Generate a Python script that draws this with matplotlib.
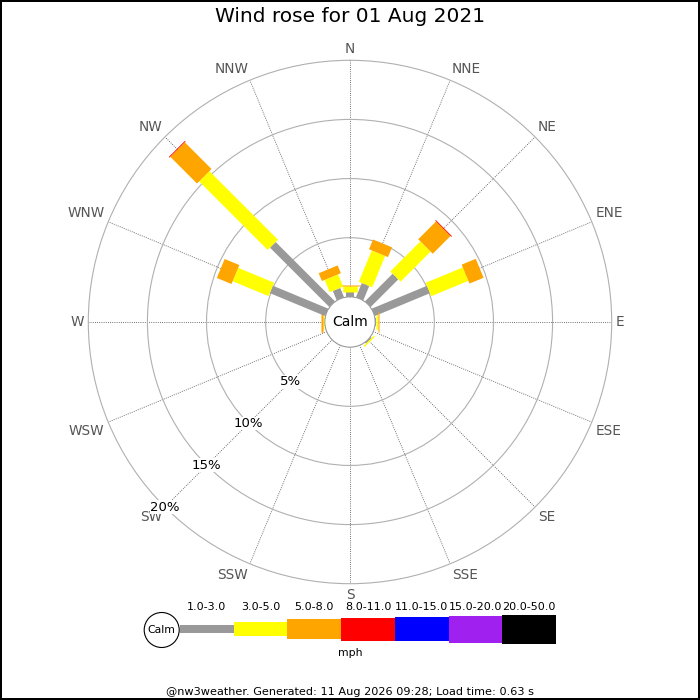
import numpy as np
import matplotlib
matplotlib.use("Agg")
import matplotlib.pyplot as plt
from matplotlib.patches import Circle

dir_names = ["N", "NNE", "NE", "ENE", "E", "ESE", "SE", "SSE",
             "S", "SSW", "SW", "WSW", "W", "WNW", "NW", "NNW"]
pct_1_3 = [0.42, 1.30, 3.31, 5.05, 0.10, 0, 0.12, 0, 0, 0, 0, 0, 0.07, 5.07, 7.10, 0.85]
pct_3_5 = [0.51, 2.87, 3.59, 3.40, 0.12, 0, 0.12, 0, 0, 0, 0, 0, 0.12, 3.29, 8.20, 1.13]
pct_5_8 = [0.08, 0.89, 2.13, 1.29, 0.12, 0, 0, 0, 0, 0, 0, 0, 0.12, 1.34, 3.20, 0.71]
pct_8_11 = [0, 0, 0.07, 0, 0, 0, 0, 0, 0, 0, 0, 0, 0, 0, 0.07, 0]
pct_11_15 = [0] * 16
pct_15_20 = [0] * 16
pct_20_50 = [0] * 16

speed_labels = ["1.0-3.0", "3.0-5.0", "5.0-8.0", "8.0-11.0",
                "11.0-15.0", "15.0-20.0", "20.0-50.0"]
ring_values = [5, 10, 15, 20]

title = "Wind rose for 01 Aug 2021"
footer = "@nw3weather. Generated: 11 Aug 2026 09:28; Load time: 0.63 s"

# Styles
colors = ["#999999", "#ffff00", "#ffa500", "#ff0000", "#0000ff", "#a020f0", "#000000"]
band_px = [8, 14.5, 20.5, 23, 24.5, 27, 29]   # bar thickness in pixels
DPI = 100
px2pt = 72.0 / DPI

series = [pct_1_3, pct_3_5, pct_5_8, pct_8_11, pct_11_15, pct_15_20, pct_20_50]

fig = plt.figure(figsize=(7, 7), dpi=DPI)
fig.patch.set_facecolor("white")
fig.patch.set_edgecolor("black")
fig.patch.set_linewidth(1.5)

# polar axes: centre (350, 322) px, outer radius ~262 px
R = 261.7
ax = fig.add_axes([(350 - R) / 700, (700 - 322 - R) / 700, 2 * R / 700, 2 * R / 700],
                  projection="polar")
ax.set_theta_zero_location("N")
ax.set_theta_direction(-1)
ax.set_ylim(0, 20)
ax.set_rorigin(-2.13)
ax.set_axisbelow(True)

theta = np.deg2rad(np.arange(16) * 22.5)
ax.set_xticks(theta)
ax.set_xticklabels([])
ax.set_yticks(ring_values[:-1])
ax.set_yticklabels([])
ax.xaxis.grid(True, color="#444444", linestyle=(0, (1, 1.6)), linewidth=0.6)
ax.yaxis.grid(True, color="#b0b0b0", linestyle="-", linewidth=0.8)
ax.spines["polar"].set_color("#b0b0b0")
ax.spines["polar"].set_linewidth(0.8)
ax.spines["inner"].set_color("#999999")
ax.spines["inner"].set_linewidth(0.8)
ax.tick_params(length=0)

# stacked radial bars, each band a thicker butt-ended line
for i, th in enumerate(theta):
    bottom = 0.0
    for k, vals in enumerate(series):
        v = vals[i]
        if v <= 0:
            continue
        ax.plot([th, th], [bottom, bottom + v], color=colors[k],
                linewidth=band_px[k] * px2pt, solid_capstyle="butt", zorder=3)
        bottom += v

# direction labels
r_lab = 20.35
for th, name in zip(theta, dir_names):
    s, c = np.sin(th), np.cos(th)
    ha = "left" if s > 0.3 else ("right" if s < -0.3 else "center")
    va = "bottom" if c > 0.3 else ("top" if c < -0.3 else "center")
    ax.text(th, r_lab, name, ha=ha, va=va, fontsize=9.8, color="#555555",
            clip_on=False)

# percentage labels along SW
for rv in ring_values:
    ax.text(np.deg2rad(225), rv, f"{rv}%", ha="center", va="center", fontsize=9.5,
            color="black", zorder=4, clip_on=False,
            bbox=dict(facecolor="white", edgecolor="none", pad=0.3))

ax.text(0.5, 0.5, "Calm", transform=ax.transAxes, ha="center", va="center",
        fontsize=10, zorder=5)

fig.text(0.5, 1 - 17 / 700, title, ha="center", va="center", fontsize=14.5)
fig.text(0.5, 1 - 692 / 700, footer, ha="center", va="center", fontsize=8.15)

# legend strip in pixel coordinates
lg = fig.add_axes([0, 0, 1, 1])
lg.set_xlim(0, 700)
lg.set_ylim(700, 0)
lg.axis("off")
seg_w = 53.7
lefts = [180 + i * seg_w for i in range(len(speed_labels))]
lg.bar(lefts, band_px, width=seg_w, bottom=[629 - h / 2 for h in band_px],
       color=colors, align="edge", linewidth=0)
for x, lab in zip(lefts, speed_labels):
    lg.text(x + seg_w / 2, 607, lab, ha="center", va="center", fontsize=8)
lg.add_patch(Circle((161.7, 630), 17.5, facecolor="white", edgecolor="black",
                    linewidth=0.8))
lg.text(161.7, 630, "Calm", ha="center", va="center", fontsize=7.8)
lg.text(350, 653, "mph", ha="center", va="center", fontsize=7.8)

fig.savefig("out.png", dpi=DPI)
